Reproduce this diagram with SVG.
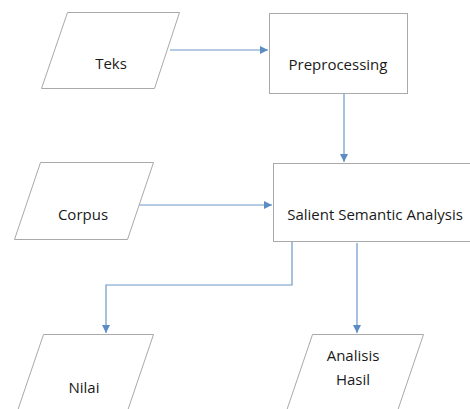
<svg xmlns="http://www.w3.org/2000/svg" width="470" height="409" viewBox="0 0 470 409">
  <defs>
    <marker id="arrow" viewBox="0 0 10 10" refX="10" refY="5" markerWidth="8" markerHeight="8" markerUnits="userSpaceOnUse" orient="auto">
      <path d="M0,0 L10,5 L0,10 Z" fill="#5b8cc4"/>
    </marker>
  </defs>
  <style>
    .shape { fill: #ffffff; stroke: #a9a9a9; stroke-width: 1; }
    .label { font-family: "Open Sans", "Liberation Sans", sans-serif; font-size: 15px; fill: #1a1a1a; text-anchor: middle; }
    .conn { fill: none; stroke: #6a98c8; stroke-width: 1.2; marker-end: url(#arrow); }
  </style>
  <rect width="470" height="409" fill="#ffffff"/>

  <g id="connectors">
    <path class="conn" d="M170,50 H268"/>
    <path class="conn" d="M344,93 V162"/>
    <path class="conn" d="M138,205 H272"/>
    <path class="conn" d="M292,241 V285 H106 V333"/>
    <path class="conn" d="M357,243 V333"/>
  </g>

  <g id="teks">
    <polygon class="shape" points="67.5,12.5 179.5,12.5 154.5,88.5 41.5,88.5"/>
    <text class="label" x="111" y="69">Teks</text>
  </g>

  <g id="preprocessing">
    <rect class="shape" x="269.5" y="13.5" width="138" height="80"/>
    <text class="label" x="338" y="70">Preprocessing</text>
  </g>

  <g id="corpus">
    <polygon class="shape" points="40.5,162.5 153.5,162.5 127.5,239.5 14.5,239.5"/>
    <text class="label" x="83" y="220">Corpus</text>
  </g>

  <g id="salient-semantic-analysis">
    <rect class="shape" x="273.5" y="163.5" width="210" height="78"/>
    <text class="label" x="375" y="220">Salient Semantic Analysis</text>
  </g>

  <g id="nilai">
    <polygon class="shape" points="43.5,334.5 153.5,334.5 127.5,411 17.5,411"/>
    <text class="label" x="84" y="393">Nilai</text>
  </g>

  <g id="analisis-hasil">
    <polygon class="shape" points="312.5,334.5 423.5,334.5 397.5,411 286.5,411"/>
    <text class="label" x="353" y="361">Analisis</text>
    <text class="label" x="353" y="385">Hasil</text>
  </g>
</svg>
